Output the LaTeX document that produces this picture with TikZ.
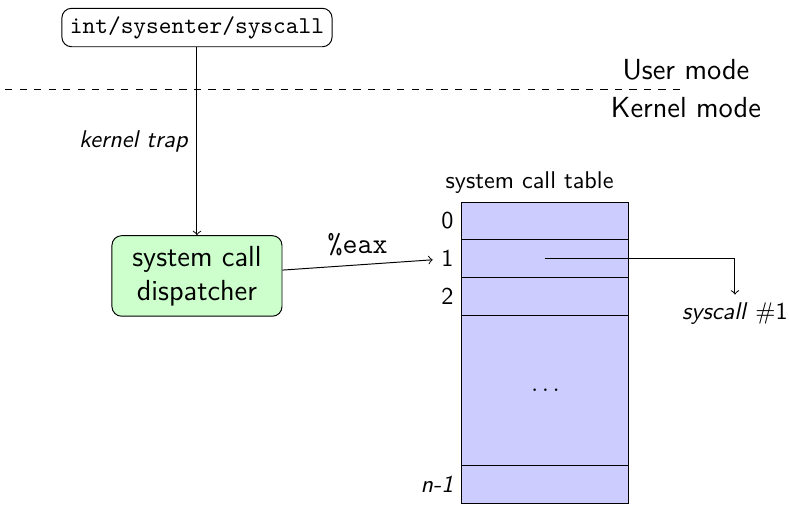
\documentclass[tikz,border=0pt]{standalone}
\usetikzlibrary{positioning}

\begin{document}
\begin{tikzpicture}[
		font=\sffamily,
		node distance=20pt,
		instr/.style={draw, rounded corners},
		dispatch/.style={draw, rounded corners, fill=green!20, minimum width=2.47cm, minimum height=1.17cm, align=center, font=\sffamily\large},
		entry/.style={draw, fill=blue!20, minimum width=2.425cm, minimum height=0.55cm, inner sep=0pt, outer sep=0pt},
	]
		\useasboundingbox (0,0) rectangle (11.46,7.335);

		% user / kernel boundary
		\coordinate (bound left) at (0.073,6.042);
		\coordinate (bound right) at (9.963,6.042);
		\draw[dashed] (bound left) -- (bound right);
		\node (user) [above, font=\sffamily\large] at (bound right) {User mode};
		\node (kernel) [below, font=\sffamily\large] at (bound right) {Kernel mode};

		\node (trap) [instr] at (2.861,6.935) {\texttt{int/sysenter/syscall}};
		\node (disp) [dispatch, below=2.73cm of trap] {system call\\dispatcher};

		% the table
		\node (row0) [entry] at (7.922,4.126) {};
		\node (row1) [entry, below=0pt of row0] {};
		\node (row2) [entry, below=0pt of row1] {};
		\node (rowdots) [entry, below=0pt of row2, minimum height=2.18cm] {$\dots$};
		\node (rown) [entry, below=0pt of rowdots] {};
		\node (title) [above=0pt of row0, xshift=-0.23cm] {system call table};
		\node (lab0) [left=0pt of row0] {0};
		\node (lab1) [left=0pt of row1] {1};
		\node (lab2) [left=0pt of row2] {2};
		\node (labn) [left=0pt of rown] {\textit{n-1}};

		\node (sc1) at (10.675,2.774) {\textit{syscall} $\#$1};

		\draw[->] (trap) -- node[left] {\textit{kernel trap}} (disp);
		\draw[->] (disp) -- node[above] {\large\texttt{\%eax}} (lab1);
		\draw[->] (row1.center) -| (sc1);
	\end{tikzpicture}
\end{document}
